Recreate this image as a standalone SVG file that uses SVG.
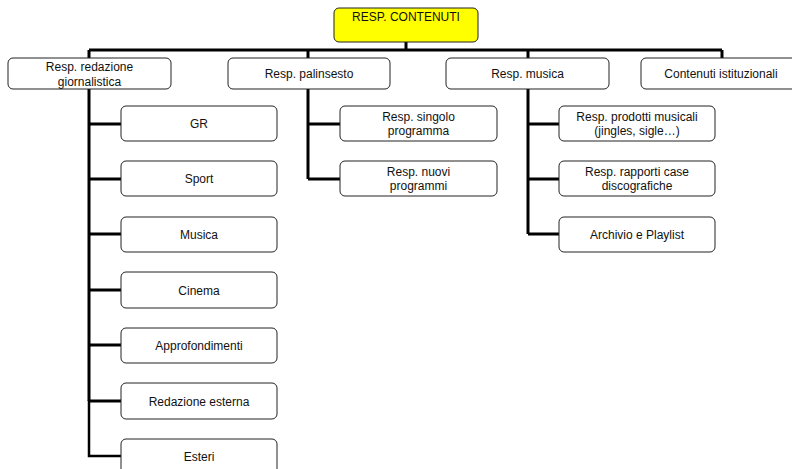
<svg xmlns="http://www.w3.org/2000/svg" width="792" height="469" viewBox="0 0 792 469">
<style>
.box{fill:#ffffff;stroke:#222;stroke-width:1}
.top{fill:#ffff00;stroke:#222;stroke-width:1}
.t{font-family:"Liberation Sans",Arial,sans-serif;font-size:12px;fill:#111;text-anchor:middle}
.ln{stroke:#000;stroke-width:3;fill:none}
</style>
<rect width="792" height="469" fill="#ffffff"/>
<g id="connectors">
<path class="ln" d="M406,42 V50 M89,50 H722 M89,50 V58 M308,50 V58 M528,50 V58 M722,50 V58"/>
<path class="ln" d="M89,89 V401 M89,124 H121 M89,179 H121 M89,234 H121 M89,290 H121 M89,345 H121 M89,401 H121"/>
<path class="ln" style="stroke-width:2.5" d="M89,400 V456 H121"/>
<path class="ln" d="M308,89 V179 M308,124 H340 M308,179 H340"/>
<path class="ln" d="M528,89 V234 M528,124 H559 M528,179 H559 M528,234 H559"/>
</g>
<g id="n-top"><rect class="top" x="334" y="8" width="144" height="34" rx="5"/><text class="t" x="406" y="21">RESP. CONTENUTI</text></g>
<g id="n-redazione"><rect class="box" x="8" y="58" width="163" height="31" rx="5"/><text class="t" x="89.5" y="71">Resp. redazione</text><text class="t" x="89.5" y="86">giornalistica</text></g>
<g id="n-palinsesto"><rect class="box" x="228" y="58" width="162" height="31" rx="5"/><text class="t" x="309" y="78">Resp. palinsesto</text></g>
<g id="n-musica"><rect class="box" x="446" y="58" width="163" height="31" rx="5"/><text class="t" x="527.5" y="78">Resp. musica</text></g>
<g id="n-istituzionali"><rect class="box" x="641" y="58" width="162" height="31" rx="5"/><text class="t" x="721" y="78">Contenuti istituzionali</text></g>
<g id="n-gr"><rect class="box" x="121" y="106" width="156" height="35" rx="5"/><text class="t" x="199" y="128">GR</text></g>
<g id="n-sport"><rect class="box" x="121" y="161" width="156" height="35" rx="5"/><text class="t" x="199" y="183">Sport</text></g>
<g id="n-musica2"><rect class="box" x="121" y="217" width="156" height="35" rx="5"/><text class="t" x="199" y="239">Musica</text></g>
<g id="n-cinema"><rect class="box" x="121" y="272" width="156" height="36" rx="5"/><text class="t" x="199" y="295">Cinema</text></g>
<g id="n-approfondimenti"><rect class="box" x="121" y="328" width="156" height="35" rx="5"/><text class="t" x="199" y="350">Approfondimenti</text></g>
<g id="n-redazione-esterna"><rect class="box" x="121" y="383" width="156" height="36" rx="5"/><text class="t" x="199" y="406">Redazione esterna</text></g>
<g id="n-esteri"><rect class="box" x="121" y="439" width="156" height="36" rx="5"/><text class="t" x="199" y="461">Esteri</text></g>
<g id="n-singolo"><rect class="box" x="340" y="106" width="157" height="35" rx="5"/><text class="t" x="418.5" y="121">Resp. singolo</text><text class="t" x="418.5" y="135">programma</text></g>
<g id="n-nuovi"><rect class="box" x="340" y="161" width="157" height="35" rx="5"/><text class="t" x="418.5" y="176">Resp. nuovi</text><text class="t" x="418.5" y="190">programmi</text></g>
<g id="n-prodotti"><rect class="box" x="559" y="106" width="156" height="35" rx="5"/><text class="t" x="637" y="121">Resp. prodotti musicali</text><text class="t" x="637" y="135">(jingles, sigle…)</text></g>
<g id="n-rapporti"><rect class="box" x="559" y="161" width="156" height="35" rx="5"/><text class="t" x="637" y="176">Resp. rapporti case</text><text class="t" x="637" y="190">discografiche</text></g>
<g id="n-archivio"><rect class="box" x="559" y="217" width="156" height="35" rx="5"/><text class="t" x="637" y="239">Archivio e Playlist</text></g>
</svg>
